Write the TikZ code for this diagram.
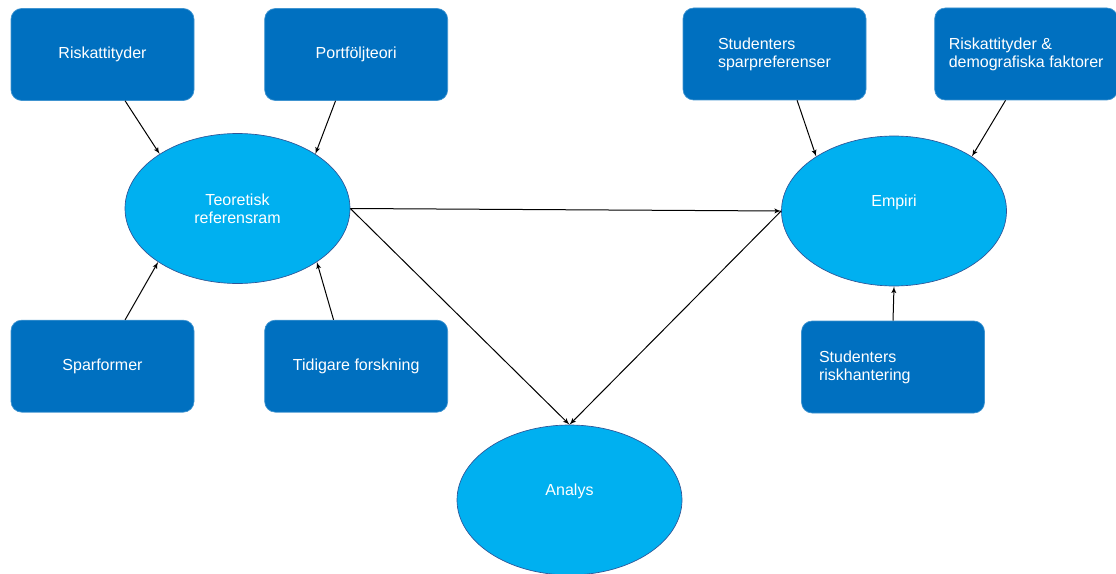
\documentclass[tikz,border=0pt]{standalone}
\usepackage{fontspec}
\setmainfont{Liberation Sans}
\usetikzlibrary{shapes,arrows,positioning}

\definecolor{boxblue}{RGB}{0,112,192}
\definecolor{ellblue}{RGB}{0,176,240}
\definecolor{ellborder}{RGB}{47,85,151}

\begin{document}
\begin{tikzpicture}[
    x=0.75pt, y=-0.75pt,
    box/.style={
        rectangle,
        draw=boxblue!75!white,
        line width=0.5pt,
        fill=boxblue,
        text=white,
        minimum width=137.25pt,
        minimum height=69pt,
        align=left,
        rounded corners=8pt,
        font=\fontsize{12}{13.5}\selectfont
    },
    circ/.style={
        ellipse,
        draw=ellborder,
        line width=0.5pt,
        fill=ellblue,
        text=white,
        inner sep=0pt,
        minimum width=168.75pt,
        minimum height=112.5pt,
        align=center,
        font=\fontsize{12}{13.5}\selectfont
    },
    line/.style={draw, line width=0.75pt, -latex', black}
]

\useasboundingbox (0,0) rectangle (1116,574);

% Theory side
\node [box] (risk) at (102.5,54.5) {Riskattityder};
\node [box, right=52.5pt of risk] (portf) {Portföljteori};
\node [box, below=164.25pt of risk] (sparform) {Sparformer};
\node [box, right=52.5pt of sparform] (tidigare) {Tidigare forskning};
\node [circ] (teori) at (237.5,208.5) {Teoretisk\\referensram};

% Empirical side
\node [box] (sparpref) at (774.5,54) {Studenters\\sparpreferenser};
\node [box, right=51pt of sparpref] (riskdemo) {Riskattityder \&\\demografiska faktorer};
\node [box, text width=111pt] (riskhant) at (893,367) {Studenters\\riskhantering};
\node [circ, text depth=16pt] (empiri) at (894,211) {Empiri};

% Analysis
\node [circ, text depth=16pt] (analys) at (569.5,500) {Analys};

% Connections
\draw [line] (risk.-64) -- (teori.145);
\draw [line] (portf.-114) -- (teori.35);
\draw [line] (sparform.64) -- (teori.214);
\draw [line] (tidigare.116) -- (teori.-34);
\draw [line] (sparpref.-64) -- (empiri.145);
\draw [line] (riskdemo.-114) -- (empiri.35);
\draw [line] (riskhant.north) -- (empiri.south);
\draw [line] (teori.east) -- (empiri.west);
\draw [line] (teori.east) -- (analys.north);
\draw [line] (empiri.west) -- (analys.north);

\end{tikzpicture}
\end{document}
